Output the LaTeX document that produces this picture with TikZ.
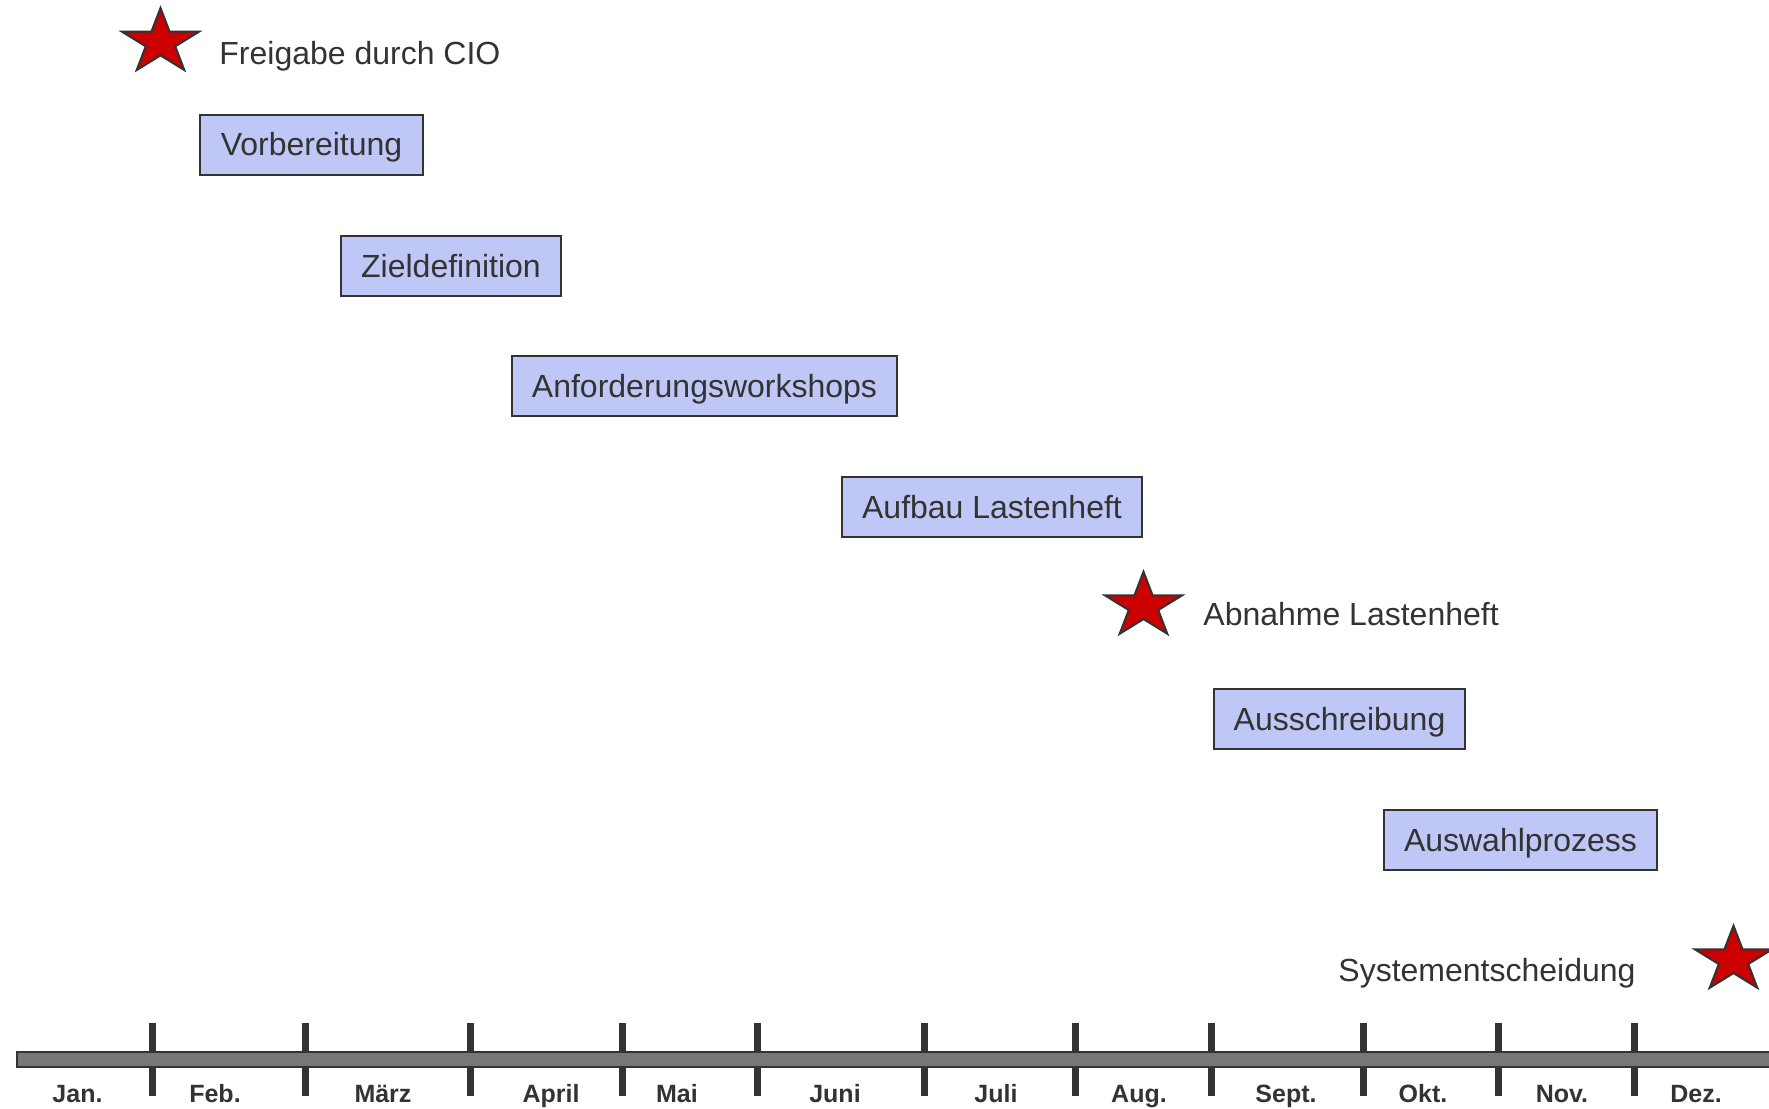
\documentclass[tikz,border=0pt]{standalone}
\usepackage{fontspec}
\setmainfont{Liberation Sans}
\definecolor{boxblue}{RGB}{190,199,245}
\definecolor{starred}{RGB}{204,0,0}
\definecolor{darkline}{RGB}{51,51,51}
\definecolor{bargray}{RGB}{119,119,119}
\tikzset{
  task/.style={draw=darkline,fill=boxblue,line width=1pt,minimum height=30pt,
    inner sep=0pt,text height=11pt,text depth=0pt,font=\fontsize{16}{19}\selectfont,text=darkline},
  note/.style={anchor=west,inner sep=0pt,text height=11pt,text depth=0pt,
    font=\fontsize{16}{19}\selectfont,text=darkline},
  month/.style={anchor=base,inner sep=0pt,font=\fontsize{12.5}{15}\selectfont\bfseries,text=darkline},
  milestar/.style={draw=darkline,fill=starred,line width=1pt,line join=miter},
  monthtick/.style={draw=darkline,line width=3.5pt},
}
% star of 5 points, a bit wider than high
\newcommand{\milestone}[3]{%
  \coordinate (#1) at (#2,#3);
  \filldraw[milestar] (#1) +(0,-34.3)
    \foreach \k in {0,...,4}{ -- +({15.5*cos(126+72*\k)},{-13.1*sin(126+72*\k)})
      -- +({40.5*cos(162+72*\k)},{-34.3*sin(162+72*\k)}) } -- cycle;}
\begin{document}
\begin{tikzpicture}[x=0.5pt,y=-0.5pt]
\useasboundingbox (0,0) rectangle (1769,1109);
% milestones
\milestone{cio}{160.5}{42.3}
\node[note] (cionote) at (219,53) {Freigabe durch CIO};
\milestone{abnahme}{1143.5}{606}
\node[note] (abnahmenote) at (1203,614) {Abnahme Lastenheft};
\milestone{system}{1733.5}{960}
\node[note] (systemnote) at (1338,970) {Systementscheidung};
% phases
\node[task,minimum width=111.5pt] (vorb) at (311.5,144.5) {Vorbereitung};
\node[task,minimum width=110pt] (ziel) at (451,266) {Zieldefinition};
\node[task,minimum width=192.5pt] (anford) at (704.5,386) {Anforderungsworkshops};
\node[task,minimum width=150pt] (aufbau) at (992,507) {Aufbau Lastenheft};
\node[task,minimum width=125.5pt] (aussch) at (1339.5,719) {Ausschreibung};
\node[task,minimum width=136.5pt] (auswahl) at (1520.5,840) {Auswahlprozess};
% time axis
\draw[monthtick] (152,1023)--(152,1096);
\draw[monthtick] (305,1023)--(305,1096);
\draw[monthtick] (470,1023)--(470,1096);
\draw[monthtick] (622,1023)--(622,1096);
\draw[monthtick] (757,1023)--(757,1096);
\draw[monthtick] (924,1023)--(924,1096);
\draw[monthtick] (1075,1023)--(1075,1096);
\draw[monthtick] (1211,1023)--(1211,1096);
\draw[monthtick] (1363,1023)--(1363,1096);
\draw[monthtick] (1498,1023)--(1498,1096);
\draw[monthtick] (1634,1023)--(1634,1096);
\draw[draw=darkline,fill=bargray,line width=1pt] (17,1052) rectangle (1780,1067);
\node[month] (jan) at (77.5,1102) {Jan.};
\node[month] (feb) at (215,1102) {Feb.};
\node[month] (mar) at (383,1102) {März};
\node[month] (apr) at (551,1102) {April};
\node[month] (mai) at (677,1102) {Mai};
\node[month] (jun) at (835,1102) {Juni};
\node[month] (jul) at (996,1102) {Juli};
\node[month] (aug) at (1139,1102) {Aug.};
\node[month] (sep) at (1286,1102) {Sept.};
\node[month] (okt) at (1423,1102) {Okt.};
\node[month] (nov) at (1562,1102) {Nov.};
\node[month] (dez) at (1696,1102) {Dez.};
\end{tikzpicture}
\end{document}
